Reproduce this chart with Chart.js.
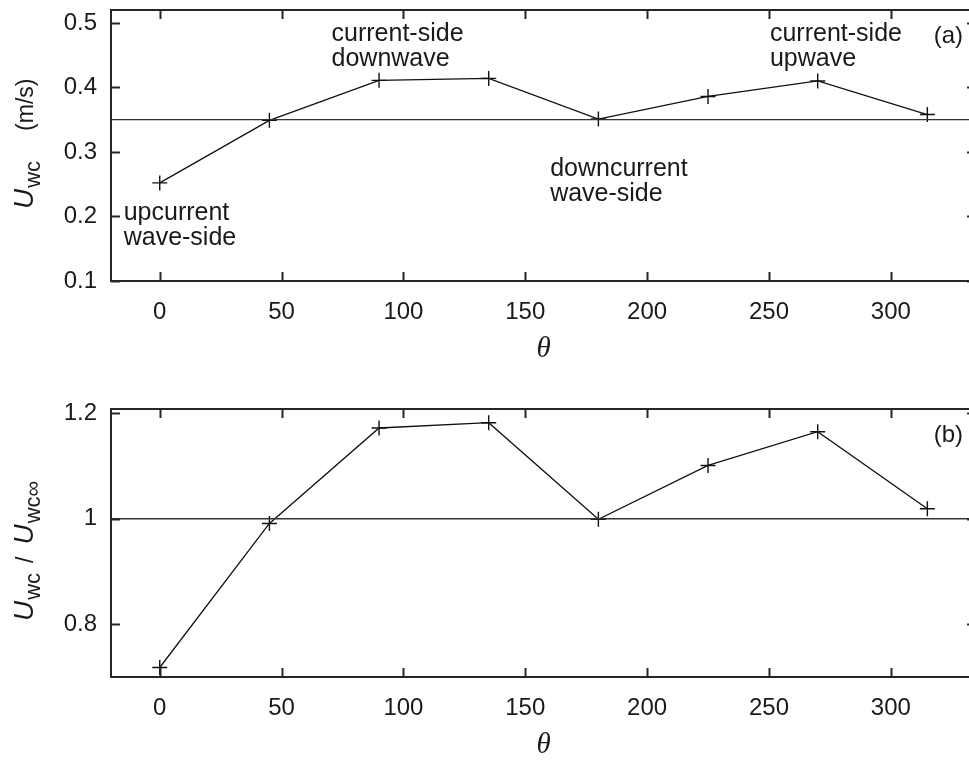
<!DOCTYPE html>
<html>
<head>
<meta charset="utf-8">
<script src="https://cdn.jsdelivr.net/npm/chart.js@4.4.1/dist/chart.umd.min.js"></script>
<style>
  html, body { margin: 0; padding: 0; background: #fff; overflow: hidden; }
  #wrap { position: relative; width: 969px; height: 760px; overflow: hidden; background: #fff; }
  canvas { position: absolute; left: 0; }
  #panelA { top: 0; }
  #panelB { top: 380px; }
</style>
</head>
<body>
<div id="wrap">
  <canvas id="panelA" width="985" height="380"></canvas>
  <canvas id="panelB" width="985" height="380"></canvas>
</div>
<script>
// Angle around the structure (degrees)
const theta = [0, 45, 90, 135, 180, 225, 270, 315];
// Combined wave-current velocity U_wc (m/s)
const uwc = [0.252, 0.349, 0.411, 0.414, 0.351, 0.386, 0.410, 0.358];
// Normalised by the far-field value U_wc∞
const uwcRatio = [0.718, 0.991, 1.172, 1.182, 0.999, 1.101, 1.165, 1.019];
// Far-field reference levels
const uwcFar = 0.35;
const ratioRef = 1;

// Axis ticks
const thetaTicks = [0, 50, 100, 150, 200, 250, 300];
const uwcTicks = [0.1, 0.2, 0.3, 0.4, 0.5];
const ratioTicks = [0.8, 1, 1.2];

// Axis limits
const thetaRange = [-20, 335];
const uwcRange = [0.1, 0.52];
const ratioRange = [0.70, 1.208];

// Region descriptions for panel (a), anchored at the first line's baseline
const regionNotes = [
  { lines: ['upcurrent', 'wave-side'], at: [-14.8, 0.194] },
  { lines: ['current-side', 'downwave'], at: [70.5, 0.472] },
  { lines: ['downcurrent', 'wave-side'], at: [160.2, 0.263] },
  { lines: ['current-side', 'upwave'], at: [250.4, 0.472] }
];

const SANS = '"Liberation Sans", Arial, Helvetica, sans-serif';
const SERIF = '"Liberation Serif", "Times New Roman", serif';
const INK = '#1a1a1a';

// Draws a run of text pieces rotated to read bottom-to-top, starting at (cx, startY)
function drawVerticalRun(ctx, cx, startY, parts) {
  ctx.save();
  ctx.translate(cx, startY);
  ctx.rotate(-Math.PI / 2);
  ctx.fillStyle = INK;
  ctx.textBaseline = 'alphabetic';
  ctx.textAlign = 'left';
  let pos = 0;
  for (const p of parts) {
    pos += p.gap || 0;
    ctx.font = p.font;
    ctx.fillText(p.text, pos, p.dy || 0);
    pos += ctx.measureText(p.text).width;
  }
  ctx.restore();
}

function makeFramePlugin(opts) {
  return {
    id: 'frameAndNotes',
    afterDraw(chart) {
      const { ctx, chartArea: a, scales: { x, y } } = chart;
      ctx.save();
      // frame box
      ctx.strokeStyle = '#262626';
      ctx.lineWidth = 2;
      ctx.strokeRect(a.left, a.top, a.right - a.left, a.bottom - a.top);
      // inward tick marks on all four sides
      const L = 9;
      ctx.beginPath();
      x.ticks.forEach(t => {
        const px = Math.round(x.getPixelForValue(t.value)) + 0.5;
        ctx.moveTo(px, a.bottom); ctx.lineTo(px, a.bottom - L);
        ctx.moveTo(px, a.top); ctx.lineTo(px, a.top + L);
      });
      y.ticks.forEach(t => {
        const py = Math.round(y.getPixelForValue(t.value)) + 0.5;
        ctx.moveTo(a.left, py); ctx.lineTo(a.left + L, py);
        ctx.moveTo(a.right, py); ctx.lineTo(a.right - L, py);
      });
      ctx.stroke();

      // region notes
      ctx.fillStyle = INK;
      ctx.font = '25px ' + SANS;
      ctx.textAlign = 'left';
      ctx.textBaseline = 'alphabetic';
      (opts.notes || []).forEach(n => {
        const px = x.getPixelForValue(n.at[0]);
        const py = y.getPixelForValue(n.at[1]);
        n.lines.forEach((ln, i) => ctx.fillText(ln, px, py + i * 25));
      });
      // panel tag
      if (opts.tag) {
        ctx.font = '24px ' + SANS;
        ctx.fillText(opts.tag.text, x.getPixelForValue(opts.tag.at[0]), y.getPixelForValue(opts.tag.at[1]));
      }
      ctx.restore();

      // y-axis title
      drawVerticalRun(ctx, opts.yTitle.x, opts.yTitle.y, opts.yTitle.parts);
    }
  };
}

function buildPanel(canvasId, values, refLevel, yRange, yTicks, padTop, xAxisHeight, titlePadBottom, plugOpts) {
  const series = theta.map((t, i) => ({ x: t, y: values[i] }));
  const refLine = [{ x: thetaRange[0], y: refLevel }, { x: thetaRange[1], y: refLevel }];
  return new Chart(document.getElementById(canvasId), {
    type: 'line',
    data: {
      datasets: [
        {
          data: refLine,
          borderColor: '#333333',
          borderWidth: 1.3,
          pointRadius: 0,
          fill: false
        },
        {
          data: series,
          borderColor: '#111111',
          borderWidth: 1.3,
          pointStyle: 'cross',
          pointRadius: 7.5,
          pointBorderColor: '#111111',
          pointBorderWidth: 1.4,
          tension: 0,
          fill: false
        }
      ]
    },
    options: {
      responsive: false,
      animation: false,
      devicePixelRatio: 1,
      layout: { padding: { top: padTop, right: 8, bottom: 0, left: 0 } },
      plugins: { legend: { display: false }, tooltip: { enabled: false } },
      scales: {
        x: {
          type: 'linear',
          min: thetaRange[0],
          max: thetaRange[1],
          afterBuildTicks: s => { s.ticks = thetaTicks.map(v => ({ value: v })); },
          afterFit: s => { s.height = xAxisHeight; s.paddingLeft = 0; s.paddingRight = 0; },
          grid: { display: false, drawTicks: false },
          border: { display: false },
          ticks: {
            color: INK,
            font: { family: SANS, size: 24 },
            padding: 17,
            maxRotation: 0,
            autoSkip: false
          },
          title: {
            display: true,
            text: 'θ',
            color: INK,
            font: { family: SERIF, style: 'italic', size: 29, lineHeight: 1 },
            padding: { top: 0, bottom: titlePadBottom }
          }
        },
        y: {
          type: 'linear',
          min: yRange[0],
          max: yRange[1],
          afterBuildTicks: s => { s.ticks = yTicks.map(v => ({ value: v })); },
          afterFit: s => { s.width = 111; s.paddingTop = 0; s.paddingBottom = 0; },
          grid: { display: false, drawTicks: false },
          border: { display: false },
          ticks: {
            color: INK,
            font: { family: SANS, size: 24 },
            padding: 14,
            callback: v => String(Number(v.toFixed(2)))
          }
        }
      }
    },
    plugins: [makeFramePlugin(plugOpts)]
  });
}

const italicU = 'italic 28px ' + SANS;
const subFont = '22px ' + SANS;

buildPanel('panelA', uwc, uwcFar, uwcRange, uwcTicks, 10, 99, 16, {
  notes: regionNotes,
  tag: { text: '(a)', at: [317.6, 0.469] },
  yTitle: {
    x: 33, y: 209,
    parts: [
      { text: 'U', font: italicU },
      { text: 'wc', font: subFont, dy: 7, gap: 1 },
      { text: '(m/s)', font: '23px ' + SANS, gap: 30 }
    ]
  }
});

buildPanel('panelB', uwcRatio, ratioRef, ratioRange, ratioTicks, 29, 83, 0, {
  notes: [],
  tag: { text: '(b)', at: [317.6, 1.146] },
  yTitle: {
    x: 33, y: 241,
    parts: [
      { text: 'U', font: italicU },
      { text: 'wc', font: subFont, dy: 7, gap: 1 },
      { text: '/', font: '23px ' + SANS, gap: 10 },
      { text: 'U', font: italicU, gap: 12 },
      { text: 'wc∞', font: subFont, dy: 7, gap: 1 }
    ]
  }
});
</script>
</body>
</html>
